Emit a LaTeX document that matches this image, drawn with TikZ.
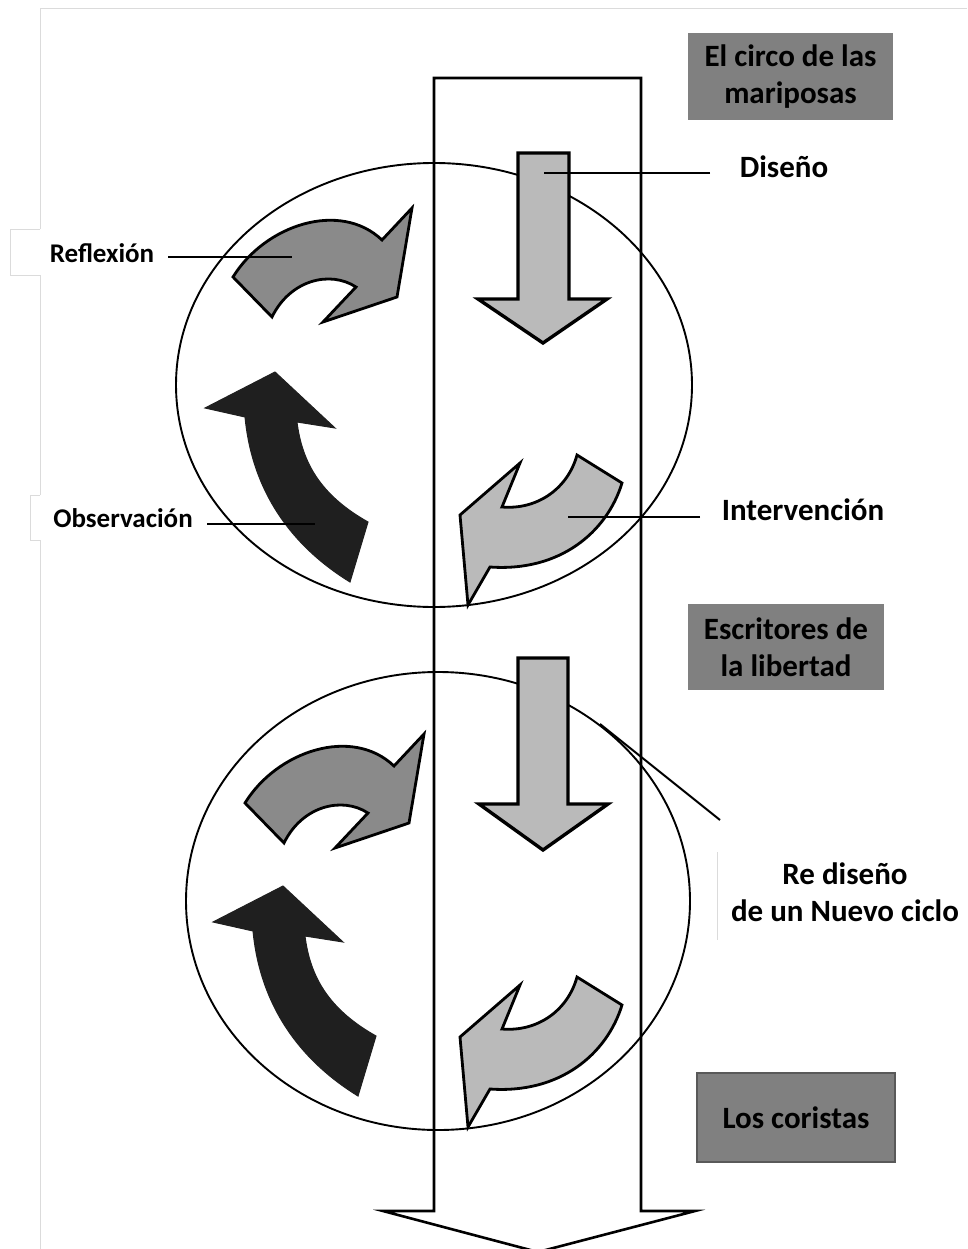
\documentclass[tikz,border=0pt]{standalone}
\usepackage{fontspec}
\setmainfont{Carlito}
\begin{document}
\begin{tikzpicture}[x=1pt,y=-1pt,
  sidelbl/.style={font=\bfseries\fontsize{27}{32}\selectfont, text=black, inner sep=0pt},
  biglbl/.style={font=\bfseries\fontsize{31}{37}\selectfont, text=black, inner sep=0pt, align=center},
  titlebox/.style={fill=black!50, text=black, font=\bfseries\fontsize{31}{37}\selectfont, align=center, inner sep=0pt},
  ring/.style={draw=black, line width=1.9pt},
  bigarrow/.style={draw=black, line width=2.6pt, line join=miter},
  downarr/.style={fill=black!27, draw=black, line width=3.4pt, line join=miter},
  midarr/.style={fill=black!46, draw=black, line width=2.8pt, line join=miter},
  lightarr/.style={fill=black!27, draw=black, line width=2.8pt, line join=miter},
  darkarr/.style={fill=black!88, draw=black!88, line width=1pt, line join=miter},
  conn/.style={draw=black, line width=2pt},
  faint/.style={draw=black!14, line width=0.8pt}
]
\useasboundingbox (0,0) rectangle (967,1249);
% page frame
\draw[faint] (967,8) -- (40,8) -- (40,229);
\draw[faint] (40,229) -| (10,275) -- (40,275) -- (40,495);
\draw[faint] (40,495) -| (30,540) -- (40,540) -- (40,1249);
\draw[faint] (717,852) -- (717,940);

% ellipses
\draw[ring] (434,385) ellipse [x radius=258, y radius=222];
\draw[ring] (438,901) ellipse [x radius=252, y radius=229];

% big vertical arrow
\draw[bigarrow] (434,78) -- (641,78) -- (641,1211) -- (695,1211) -- (538,1252) -- (383,1211) -- (434,1211) -- cycle;

% down arrows
\draw[downarr] (518,153) -- (569,153) -- (569,299) -- (607,299) -- (543,343) -- (478,299) -- (518,299) -- cycle;
\draw[downarr] (518,658) -- (568,658) -- (568,804) -- (608,804) -- (543,850) -- (479,804) -- (518,804) -- cycle;

% reflection arrows (mid gray)
\foreach \dx/\dy in {0/0, 12/526}{
\begin{scope}[shift={(\dx,\dy)}]
\draw[midarr] (233,277) .. controls (265,225) and (340,200) .. (382,240)
  -- (412,208) -- (397,297) -- (323,322) -- (356,287)
  .. controls (330,270) and (290,280) .. (272,317) -- cycle;
\end{scope}}

% observation arrows (black)
\foreach \dx/\dy in {0/0, 8/514}{
\begin{scope}[shift={(\dx,\dy)}]
\draw[darkarr] (275,372) -- (335,428) -- (297,422)
  .. controls (302,462) and (320,495) .. (368,522)
  -- (350,582)
  .. controls (290,545) and (252,490) .. (245,417)
  -- (205,408) -- cycle;
\end{scope}}

% intervention arrows (light gray)
\foreach \dx/\dy in {0/0, 0/522}{
\begin{scope}[shift={(\dx,\dy)}]
\draw[lightarr] (577,455) .. controls (568,488) and (538,510) .. (502,507)
  -- (520,463) -- (460,515) -- (468,605) -- (490,567)
  .. controls (560,572) and (607,532) .. (622,483) -- cycle;
\end{scope}}

% title boxes
\node[titlebox, minimum width=205pt, minimum height=87pt] (circo) at (790.5,76.5) {El circo de las\\mariposas};
\node[titlebox, minimum width=196pt, minimum height=86pt] (escritores) at (786,647) {Escritores de\\la libertad};
\node[titlebox, draw=black!65, line width=1.5pt, minimum width=198pt, minimum height=89pt] (coristas) at (796,1117.5) {Los coristas};

% labels
\node[sidelbl] (reflexion) at (102,253) {Reflexión};
\node[sidelbl] (observacion) at (123,518) {Observación};
\node[biglbl] (diseno) at (784,167) {Diseño};
\node[biglbl] (intervencion) at (803,510) {Intervención};
\node[biglbl] (rediseno) at (845,892) {Re diseño\\de un Nuevo ciclo};

% connectors
\coordinate (cRa) at (168,257); \coordinate (cRb) at (292,257);
\coordinate (cOa) at (207,524); \coordinate (cOb) at (315,524);
\coordinate (cDa) at (710,173); \coordinate (cDb) at (544,173);
\coordinate (cIa) at (700,517); \coordinate (cIb) at (568,517);
\coordinate (cNa) at (720,820); \coordinate (cNb) at (600,724);
\draw[conn] (cRa) -- (cRb);
\draw[conn] (cOa) -- (cOb);
\draw[conn] (cDa) -- (cDb);
\draw[conn] (cIa) -- (cIb);
\draw[conn] (cNa) -- (cNb);
\end{tikzpicture}
\end{document}
